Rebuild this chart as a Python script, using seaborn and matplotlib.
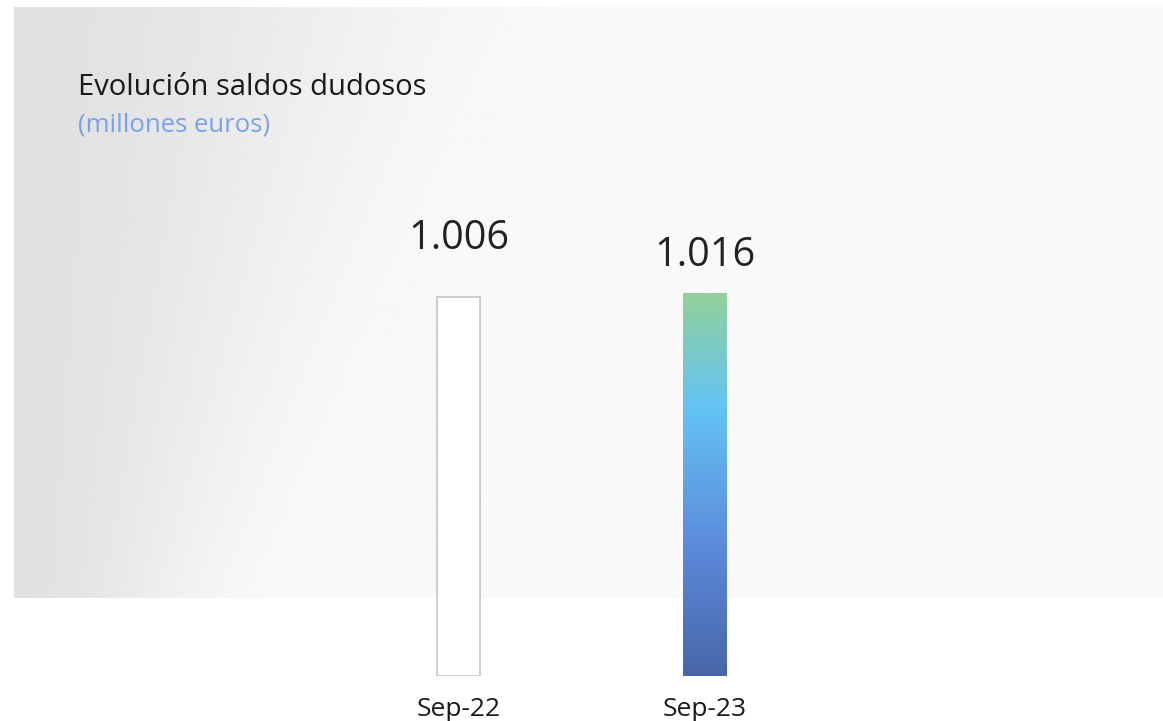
import numpy as np
import pandas as pd
import seaborn as sns
from matplotlib import pyplot as plt
from matplotlib.colors import LinearSegmentedColormap

# data
periods = ['Sep-22', 'Sep-23']
saldos = [1006, 1016]
labels = ['1.006', '1.016']

title = 'Evolución saldos dudosos'
subtitle = '(millones euros)'

sns.set_style('white')
plt.rcParams['font.family'] = ['Open Sans', 'DejaVu Sans']

W, H = 1163, 721
fig = plt.figure(figsize=(W / 100, H / 100), dpi=100)
fig.patch.set_facecolor('white')

# grey panel with soft gradient behind the chart
bg = fig.add_axes([14 / W, (H - 598) / H, (W - 14) / W, 591 / H], zorder=0)
xx, yy = np.meshgrid(np.linspace(0, 1, 500), np.linspace(0, 1, 250))
t = np.clip(xx * (W - 14) / (560 - 300 * yy), 0, 1)
t = t * t * (3 - 2 * t)
shade = 0.882 + (0.973 - 0.882) * t
bg.imshow(shade, cmap='gray', vmin=0, vmax=1, aspect='auto', extent=[0, 1, 1, 0])
bg.axis('off')

# bar axes
ax_h = 490
ax = fig.add_axes([0, 45 / H, 1, ax_h / H], zorder=1)
ax.patch.set_alpha(0)

df = pd.DataFrame({'periodo': periods, 'saldo': saldos})
sns.barplot(data=df, x='periodo', y='saldo', width=0.175, ax=ax,
            color='white', saturation=1, errorbar=None)

bars = ax.patches
bars[0].set_facecolor('white')
bars[0].set_edgecolor('#c6c6c6')
bars[0].set_linewidth(1.2)

# gradient fill for the last bar
grad = LinearSegmentedColormap.from_list(
    'saldo', [(0, '#4866a8'), (0.32, '#5b88d8'), (0.70, '#64c3f5'), (1, '#91d19a')])
b = bars[1]
b.set_facecolor('none')
b.set_edgecolor('none')
x0, w, h = b.get_x(), b.get_width(), b.get_height()
img = ax.imshow(np.linspace(0, 1, 256).reshape(-1, 1), cmap=grad, origin='lower',
                extent=[x0, x0 + w, 0, h], aspect='auto', zorder=2)
img.set_clip_path(b)
ax.set_xlim(-458.5 / 246, (W - 458.5) / 246)
ax.set_ylim(0, 1300)

# value labels
offsets = [27, 12.5]
for i, (v, lab) in enumerate(zip(saldos, labels)):
    ax.annotate(lab, (i, v), xytext=(0, offsets[i]), textcoords='offset points',
                ha='center', va='bottom', fontsize=28.5, color='#222222')

ax.set_xlabel('')
ax.set_ylabel('')
ax.set_yticks([])
ax.tick_params(axis='x', length=0, pad=15, labelsize=19, labelcolor='#1a1a1a')
sns.despine(ax=ax, left=True, bottom=True)

fig.text(78 / W, (H - 95) / H, title, fontsize=21, color='#1a1a1a',
         ha='left', va='baseline')
fig.text(78 / W, (H - 132) / H, subtitle, fontsize=18.5, color='#7aa2e8',
         ha='left', va='baseline')

fig.savefig('out.png', dpi=100, facecolor='white')
